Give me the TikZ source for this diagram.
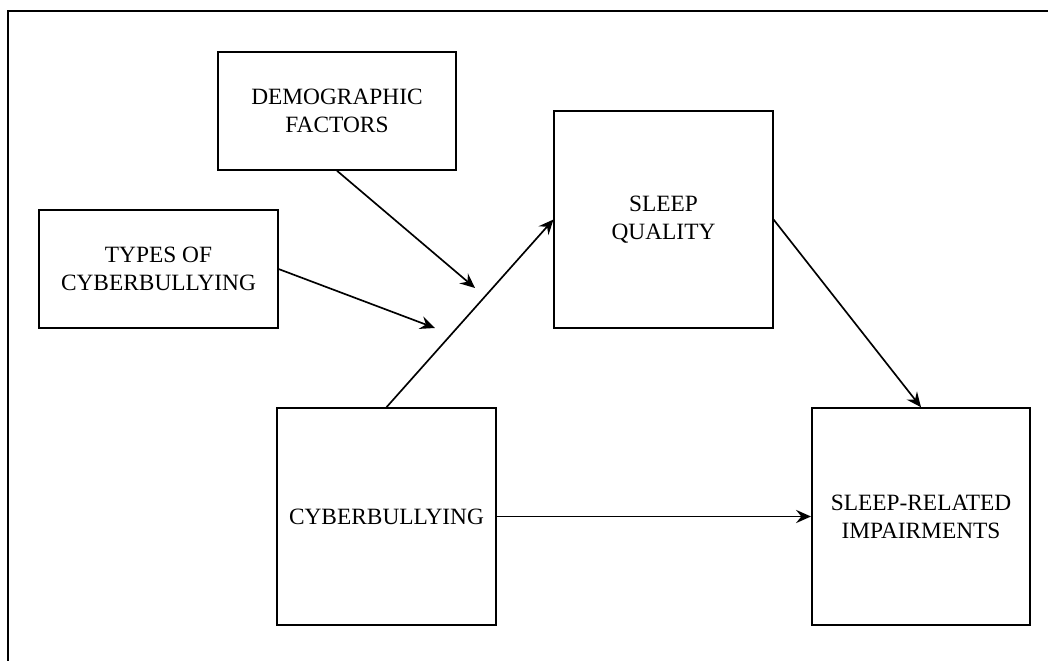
\documentclass[tikz,border=0pt]{standalone}
\usepackage{fontspec}
\setmainfont{Liberation Serif}
\usetikzlibrary{arrows.meta}
\begin{document}
\begin{tikzpicture}[x=0.02cm,y=-0.02cm,
        block/.style={draw,line width=0.9pt,rectangle,align=center,inner sep=0pt,
            font=\fontsize{13.3}{15.9}\selectfont},
        wide/.style={block,minimum width=4.77cm,minimum height=2.36cm},
        square/.style={block,minimum width=4.37cm,minimum height=4.34cm},
        link/.style={line width=0.95pt,-{Stealth[length=8.5pt,width=7.5pt,inset=3pt]}}]
        \useasboundingbox (0,0) rectangle (1048,661);
        % outer frame, cut off at right and bottom
        \draw[line width=1.2pt] (8,680) -- (8,11) -- (1070,11);
        \node[wide] (demo) at (337,111) {DEMOGRAPHIC\\FACTORS};
        \node[wide] (types) at (158.5,269) {TYPES OF\\CYBERBULLYING};
        \node[square] (sleep) at (663.5,219.5) {SLEEP\\QUALITY};
        \node[square] (cyber) at (386.5,516.5) {CYBERBULLYING};
        \node[square] (impair) at (921,516.5) {SLEEP-RELATED\\IMPAIRMENTS};
        \coordinate (demotip) at (475,288);
        \coordinate (typestip) at (435,328);
        \draw[link] (demo.south) -- (demotip);
        \draw[link] (types.east) -- (typestip);
        \draw[link] (cyber.north) -- (sleep.west);
        \draw[link] (sleep.east) -- (impair.north);
        \draw[link] (cyber.east) -- (impair.west);
    \end{tikzpicture}
\end{document}
